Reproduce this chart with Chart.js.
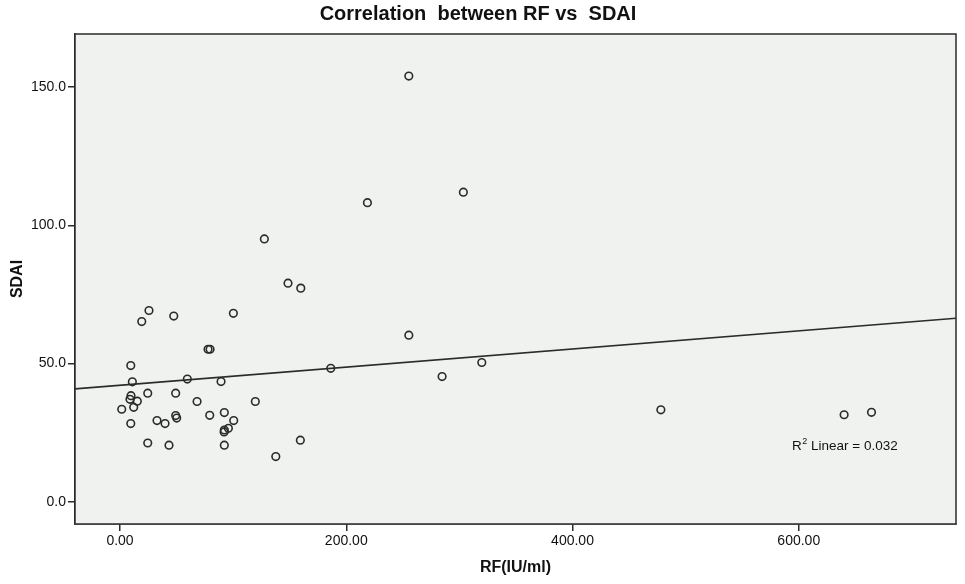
<!DOCTYPE html>
<html>
<head>
<meta charset="utf-8">
<title>Correlation between RF vs SDAI</title>
<script src="https://cdn.jsdelivr.net/npm/chart.js@4.4.1/dist/chart.umd.min.js"></script>
<style>
  body { margin: 0; background: #fff; }
  #wrap { width: 965px; height: 584px; }
</style>
</head>
<body>
<div id="wrap"><canvas id="scatterChart"></canvas></div>
<script>
// values
const rfValues = [255.3, 303.5, 218.7, 127.6, 148.5, 159.8, 100.2, 25.6, 19.2, 47.5,
  77.8, 79.6, 255.3, 9.5, 186.3, 319.8, 284.7, 59.5, 89.3, 10.9,
  24.5, 49.2, 9.7, 8.8, 15.3, 12.1, 68.1, 119.6, 1.5, 49.2,
  50.1, 79.3, 92.2, 100.5, 32.7, 39.8, 9.5, 92.2, 95.8, 92.0,
  24.5, 43.3, 92.2, 137.7, 159.4, 478.1, 640.1, 664.3];
const sdaiValues = [154.0, 112.0, 108.2, 95.1, 79.1, 77.3, 68.2, 69.2, 65.2, 67.2,
  55.2, 55.2, 60.3, 49.3, 48.3, 50.4, 45.3, 44.4, 43.5, 43.4,
  39.3, 39.3, 38.4, 37.1, 36.4, 34.2, 36.3, 36.3, 33.5, 31.2,
  30.3, 31.3, 32.3, 29.4, 29.4, 28.3, 28.3, 26.0, 26.6, 25.3,
  21.3, 20.5, 20.5, 16.4, 22.3, 33.3, 31.5, 32.4];

// fit line end points (x at left / right edge of the plot)
const fitX = [-39.8, 739];
const fitY = [40.85, 66.4];

const xTicks = [0, 200, 400, 600];
const yTicks = [0, 50, 100, 150];
const r2Text = "0.032";

const points = rfValues.map((v, i) => ({ x: v, y: sdaiValues[i] }));
const fitLine = fitX.map((v, i) => ({ x: v, y: fitY[i] }));

const ink = "#2b2b2b";
const fam = "'Liberation Sans', Arial, sans-serif";

const plotFrame = {
  id: "plotFrame",
  beforeDatasetsDraw(chart) {
    const { ctx, chartArea: a } = chart;
    ctx.save();
    ctx.fillStyle = "#f0f2f0";
    ctx.fillRect(a.left, a.top, a.right - a.left, a.bottom - a.top);
    ctx.restore();
  },
  afterDraw(chart) {
    const { ctx, chartArea: a, scales } = chart;
    ctx.save();
    ctx.strokeStyle = ink;
    ctx.lineWidth = 1.5;
    ctx.strokeRect(a.left, a.top, a.right - a.left, a.bottom - a.top);

    // R2 label
    const px = scales.x.getPixelForValue(594);
    const py = scales.y.getPixelForValue(20.2);
    ctx.fillStyle = "#111";
    ctx.textBaseline = "middle";
    ctx.font = "13.5px " + fam;
    ctx.fillText("R", px, py);
    let w = ctx.measureText("R").width;
    ctx.font = "9px " + fam;
    ctx.fillText("2", px + w + 0.5, py - 5);
    w += ctx.measureText("2").width + 0.5;
    ctx.font = "13.5px " + fam;
    ctx.fillText(" Linear = " + r2Text, px + w, py);
    ctx.restore();
  },
};

const tickFont = { family: fam, size: 14 };
const titleFont = { family: fam, size: 16, weight: "bold" };

new Chart(document.getElementById("scatterChart"), {
  type: "scatter",
  data: {
    datasets: [
      {
        label: "SDAI",
        data: points,
        pointStyle: "circle",
        pointRadius: 3.8,
        pointBorderWidth: 1.6,
        pointBackgroundColor: "rgba(0,0,0,0)",
        pointBorderColor: ink,
      },
      {
        type: "line",
        label: "Linear fit",
        data: fitLine,
        borderColor: ink,
        borderWidth: 1.6,
        pointRadius: 0,
        fill: false,
      },
    ],
  },
  options: {
    responsive: true,
    maintainAspectRatio: false,
    animation: false,
    layout: { padding: { left: 0, right: 9, top: 0, bottom: 0 } },
    plugins: {
      legend: { display: false },
      tooltip: { enabled: false },
      title: {
        display: true,
        text: "Correlation  between RF vs  SDAI",
        color: "#111",
        font: { family: fam, size: 20, weight: "bold" },
        padding: { top: 2, bottom: 8 },
      },
    },
    scales: {
      x: {
        type: "linear",
        min: fitX[0],
        max: fitX[1],
        afterBuildTicks: (axis) => { axis.ticks = xTicks.map((v) => ({ value: v })); },
        afterFit: (axis) => { axis.height = 60; },
        ticks: { color: "#111", font: tickFont, padding: 2, callback: (v) => v.toFixed(2) },
        grid: { drawOnChartArea: false, color: ink, lineWidth: 1.5, tickLength: 7 },
        border: { color: ink, width: 1.5 },
        title: { display: true, text: "RF(IU/ml)", color: "#111", font: titleFont, padding: { top: 0, bottom: 7 } },
      },
      y: {
        type: "linear",
        min: -8,
        max: 169.2,
        afterBuildTicks: (axis) => { axis.ticks = yTicks.map((v) => ({ value: v })); },
        afterFit: (axis) => { axis.width = 75; },
        ticks: { color: "#111", font: tickFont, padding: 2, callback: (v) => v.toFixed(1) },
        grid: { drawOnChartArea: false, color: ink, lineWidth: 1.5, tickLength: 7 },
        border: { color: ink, width: 1.5 },
        title: { display: true, text: "SDAI", color: "#111", font: titleFont, padding: { top: 8, bottom: 0 } },
      },
    },
  },
  plugins: [plotFrame],
});
</script>
</body>
</html>
